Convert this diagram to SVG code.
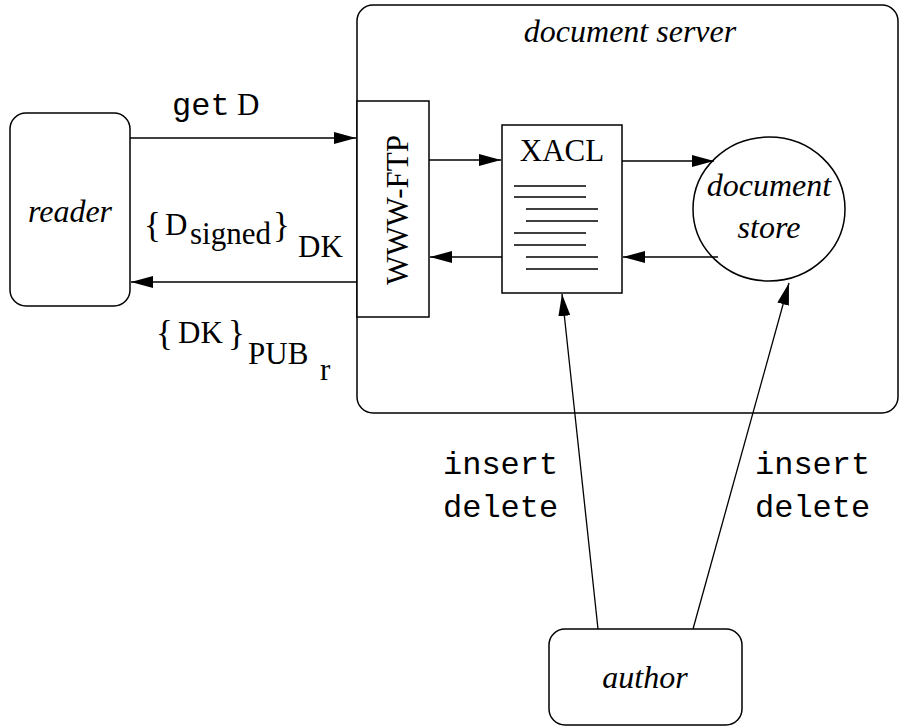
<svg xmlns="http://www.w3.org/2000/svg" width="900" height="726" viewBox="0 0 900 726">
<style>
.box{fill:#fff;stroke:#000;stroke-width:1.5}
.ln{fill:none;stroke:#000;stroke-width:1.3}
.it{font-family:"Liberation Serif",serif;font-style:italic;font-size:32px;fill:#000}
.rm{font-family:"Liberation Serif",serif;font-size:31px;fill:#000}
.br{font-family:"Liberation Serif",serif;font-size:35px;fill:#000}
.mono{font-family:"Liberation Mono",monospace;font-size:32px;fill:#000}
</style>
<defs>
<marker id="ah" viewBox="0 0 22 12" refX="22" refY="6" markerWidth="22" markerHeight="12" markerUnits="userSpaceOnUse" orient="auto">
<path d="M0,0 L22,6 L0,12 Z" fill="#000"/>
</marker>
</defs>
<g id="server">
<rect class="box" x="357" y="5" width="541" height="408" rx="16"/>
<text class="it" x="630" y="42" text-anchor="middle">document server</text>
</g>
<g id="reader">
<rect class="box" x="10" y="113" width="120" height="193" rx="16"/>
<text class="it" x="70" y="222" text-anchor="middle" font-size="33">reader</text>
</g>
<g id="wwwftp">
<rect class="box" x="357" y="101" width="72" height="216"/>
<text class="rm" font-size="34" transform="translate(408,210) rotate(-90)" text-anchor="middle">WWW-FTP</text>
</g>
<g id="xacl">
<rect class="box" x="502" y="125" width="120" height="168"/>
<text class="rm" font-size="36" x="562" y="161" text-anchor="middle">XACL</text>
<g class="ln">
<line x1="514" y1="186" x2="586" y2="186"/>
<line x1="514" y1="197" x2="586" y2="197"/>
<line x1="526" y1="209" x2="598" y2="209"/>
<line x1="526" y1="221" x2="598" y2="221"/>
<line x1="514" y1="233" x2="586" y2="233"/>
<line x1="514" y1="245" x2="586" y2="245"/>
<line x1="526" y1="257" x2="598" y2="257"/>
<line x1="526" y1="269" x2="598" y2="269"/>
</g>
</g>
<g id="store">
<ellipse class="box" cx="769" cy="209" rx="76" ry="72"/>
<text class="it" x="769" y="196" text-anchor="middle">document</text>
<text class="it" x="769" y="238" text-anchor="middle">store</text>
</g>
<g id="author">
<rect class="box" x="549" y="629" width="193" height="96" rx="16"/>
<text class="it" x="645" y="688" text-anchor="middle" font-size="33">author</text>
</g>
<g id="connectors" class="ln" marker-end="url(#ah)">
<line x1="130" y1="138" x2="356" y2="138"/>
<line x1="357" y1="282" x2="131" y2="282"/>
<line x1="429" y1="160" x2="501" y2="160"/>
<line x1="502" y1="257" x2="430" y2="257"/>
<line x1="622" y1="161" x2="714" y2="161"/>
<line x1="718" y1="257" x2="623" y2="257"/>
<line x1="598" y1="629" x2="562" y2="294"/>
<line x1="693" y1="629" x2="789" y2="283"/>
</g>
<g id="labels">
<text class="mono" x="172" y="115">get</text>
<text class="rm" x="237" y="115">D</text>
<text class="br" x="144" y="237">{</text>
<text class="rm" x="165" y="235">D</text>
<text class="rm" x="190" y="244">signed</text>
<text class="br" x="273" y="237">}</text>
<text class="rm" x="298" y="257">DK</text>
<text class="br" x="156" y="345">{</text>
<text class="rm" x="178" y="343">DK</text>
<text class="br" x="228" y="345">}</text>
<text class="rm" x="248" y="364">PUB</text>
<text class="rm" x="320" y="380">r</text>
<text class="mono" x="443" y="474">insert</text>
<text class="mono" x="443" y="517">delete</text>
<text class="mono" x="755" y="474">insert</text>
<text class="mono" x="755" y="517">delete</text>
</g>
</svg>
